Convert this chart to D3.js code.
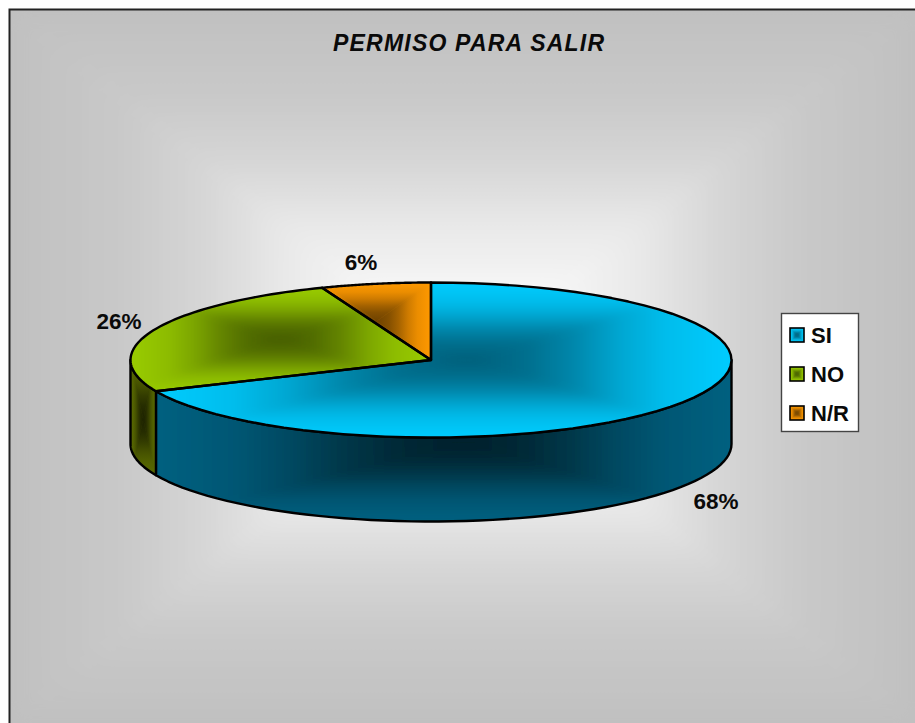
<!DOCTYPE html>
<html><head><meta charset="utf-8">
<script src="https://cdnjs.cloudflare.com/ajax/libs/d3/7.8.5/d3.min.js"></script>
<style>html,body{margin:0;padding:0;background:#fff;overflow:hidden}svg{display:block}text{font-family:"Liberation Sans",Arial,sans-serif;font-weight:bold;fill:#0a0a0a}</style>
</head><body><svg id="c" width="915" height="723"></svg>
<script>
const title = "PERMISO PARA SALIR";
const categories = ["SI", "NO", "N/R"];
const values = [68.4, 25.7, 5.9];
const edgeColors = ["#00ccff", "#99cc00", "#ff9900"];
const topCentres = ["#005f7a", "#455c00", "#6e4200"];
const sideEdges = ["#006080", "#5a6a00", "#804d00"];
const sideCentres = ["#01202a", "#1c2100", "#2a1800"];
const rampAt = [0, 0.25, 0.42, 0.6, 0.77, 1];
const rampMix = [0, 0.14, 0.34, 0.63, 0.84, 1];

const svg = d3.select("#c");
const defs = svg.append("defs");
let gid = 0;
function blurFilter(id, dev) {
  defs.append("filter").attr("id",id).attr("filterUnits","userSpaceOnUse")
    .attr("x",-50).attr("y",-50).attr("width",1015).attr("height",823)
    .append("feGaussianBlur").attr("stdDeviation",dev);
}
blurFilter("softBg", 9);
blurFilter("softMark", 4);

function rectGrad(parent, b, cx, cy, edge, centre, filter) {
  const mix = d3.interpolateRgb(edge, centre);
  const sides = [
    {pts:[[b.x0,b.y0],[b.x1,b.y0]], from:[cx,b.y0]},
    {pts:[[b.x1,b.y0],[b.x1,b.y1]], from:[b.x1,cy]},
    {pts:[[b.x1,b.y1],[b.x0,b.y1]], from:[cx,b.y1]},
    {pts:[[b.x0,b.y1],[b.x0,b.y0]], from:[b.x0,cy]}
  ];
  parent.append("rect").attr("x",b.x0-30).attr("y",b.y0-30).attr("width",b.x1-b.x0+60).attr("height",b.y1-b.y0+60).attr("fill",edge);
  const g = parent.append("g");
  if (filter) g.attr("filter","url(#"+filter+")");
  sides.forEach(s => {
    const id = "g" + (gid++);
    const lg = defs.append("linearGradient").attr("id", id).attr("gradientUnits","userSpaceOnUse")
      .attr("x1", s.from[0]).attr("y1", s.from[1]).attr("x2", cx).attr("y2", cy);
    rampAt.forEach((t,k) => lg.append("stop").attr("offset",t).attr("stop-color",mix(rampMix[k])));
    g.append("polygon").attr("points", [...s.pts,[cx,cy]].map(p=>p.join(",")).join(" "))
      .attr("fill","url(#"+id+")").attr("stroke","url(#"+id+")").attr("stroke-width",0.5);
  });
}
function clipped(d) {
  const id = "c" + (gid++);
  defs.append("clipPath").attr("id",id).append("path").attr("d",d);
  return svg.append("g").attr("clip-path","url(#"+id+")");
}

const bg = clipped("M10,10H915V723H10Z");
rectGrad(bg, {x0:10,y0:10,x1:915,y1:723}, 462, 366, "#c0c0c0", "#ffffff", "softBg");
svg.append("path").attr("d","M9.5,723V9.5H915").attr("fill","none").attr("stroke","#222").attr("stroke-width",2);

const cx = 431, cy = 360, rx = 300.5, ry = 77.5, depth = 84;
const sx = d3.scaleLinear().domain([-1,1]).range([cx-rx,cx+rx]);
const sy = d3.scaleLinear().domain([-1,1]).range([cy-ry,cy+ry]);
const pie = d3.pie().sort(null).value(d=>d)(values);
const pt = a => [sx(Math.sin(a)), sy(-Math.cos(a))];
const arcPts = (a0,a1) => d3.range(0,61).map(i => pt(a0+(a1-a0)*i/60));
const line = d3.line();
const OUT = 2.4;

const HALF = Math.PI/2, TH = 3*Math.PI/2;
const sideArcs = pie.map((p,i)=>({i, a0:Math.max(p.startAngle,HALF), a1:Math.min(p.endAngle,TH)})).filter(s=>s.a1>s.a0);
sideArcs.forEach(s => {
  const upper = arcPts(s.a0,s.a1);
  const lower = upper.map(q=>[q[0],q[1]+depth]).reverse();
  const d = line([...upper,...lower])+"Z";
  const xs = upper.map(q=>q[0]);
  const b = {x0:d3.min(xs), x1:d3.max(xs), y0:d3.min(upper,q=>q[1]), y1:d3.max(lower,q=>q[1])};
  const wide = s.i === 0;
  const mx = wide ? 465 : (b.x0+b.x1)/2;
  rectGrad(clipped(d), b, mx, (b.y0+b.y1)/2+2, sideEdges[s.i], sideCentres[s.i], wide ? "softMark" : null);
  svg.append("path").attr("d",d).attr("fill","none").attr("stroke","#000").attr("stroke-width",OUT).attr("stroke-linejoin","round");
});

pie.forEach((p,i) => {
  const a = arcPts(p.startAngle,p.endAngle);
  const all = [[cx,cy],...a];
  const d = line(all)+"Z";
  let xs = all.map(q=>q[0]), ys = all.map(q=>q[1]);
  const b = {x0:d3.min(xs), x1:d3.max(xs), y0:d3.min(ys), y1:d3.max(ys)};
  const mx = i === 0 ? 468 : (b.x0+b.x1)/2;
  rectGrad(clipped(d), b, mx, (b.y0+b.y1)/2, edgeColors[i], topCentres[i], i === 2 ? null : "softMark");
});
pie.forEach(p => {
  svg.append("path").attr("d",line([[cx,cy],...arcPts(p.startAngle,p.endAngle)])+"Z")
    .attr("fill","none").attr("stroke","#000").attr("stroke-width",OUT).attr("stroke-linejoin","round");
});

svg.append("text").attr("x",333).attr("y",51).attr("font-size",23)
  .attr("font-style","italic").attr("textLength",271).attr("lengthAdjust","spacing").text(title);
const labelAt = [[361,262],[119,321],[716,501]];
const order = [2,1,0];
order.forEach((i,k) => {
  svg.append("text").attr("x",labelAt[k][0]).attr("y",labelAt[k][1]+8).attr("text-anchor","middle")
    .attr("font-size",22.5).text(Math.round(values[i])+"%");
});

const lx = 781, ly = 314;
svg.append("rect").attr("x",lx+.5).attr("y",ly-.5).attr("width",77).attr("height",118)
  .attr("fill","#fff").attr("stroke","#444").attr("stroke-width",1.4);
const ys = d3.scalePoint().domain(categories).range([335,413]);
categories.forEach((c,i) => {
  const y = ys(c);
  const id = "c" + (gid++);
  defs.append("clipPath").attr("id",id).append("rect").attr("x",790).attr("y",y-7).attr("width",14).attr("height",14);
  const g = svg.append("g").attr("clip-path","url(#"+id+")");
  rectGrad(g, {x0:790,y0:y-7,x1:804,y1:y+7}, 797, y, edgeColors[i], topCentres[i]);
  svg.append("rect").attr("x",790).attr("y",y-7).attr("width",14).attr("height",14)
    .attr("fill","none").attr("stroke","#000").attr("stroke-width",1.6);
  svg.append("text").attr("x",811).attr("y",y+8).attr("font-size",22).text(c);
});
</script></body></html>
